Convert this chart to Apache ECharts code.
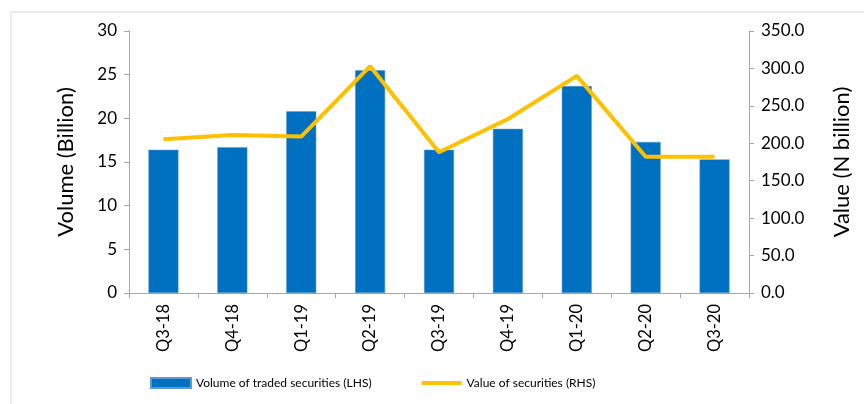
<!DOCTYPE html>
<html>
<head>
<meta charset="utf-8">
<script src="https://cdn.jsdelivr.net/npm/echarts@6/dist/echarts.min.js"></script>
<style>
    html, body { margin: 0; padding: 0; background: #fff; }
    #chart { width: 864px; height: 404px; }
</style>
</head>
<body>
<div id="chart"></div>
<script>
// quarters on the x axis
const quarters = ["Q3-18", "Q4-18", "Q1-19", "Q2-19", "Q3-19", "Q4-19", "Q1-20", "Q2-20", "Q3-20"];
// volume of traded securities, billion (left axis)
const volumeData = [16.4, 16.7, 20.8, 25.5, 16.4, 18.8, 23.7, 17.3, 15.3];
// value of securities, N billion (right axis)
const valueData = [205.5, 211, 209, 303, 188, 232.5, 290, 182, 182];

const seriesNames = ["Volume of traded securities (LHS)", "Value of securities (RHS)"];

const fontFamily = "Lato";
const axisColor = "#A6A6A6";
const textColor = "#000";

const myChart = echarts.init(document.getElementById("chart"));

const option = {
    animation: false,
    graphic: [
        {
            // light frame around the chart area
            type: "rect",
            shape: { x: 11, y: 12, width: 900, height: 420 },
            style: { fill: "none", stroke: "#E6E6E6", lineWidth: 1.5 },
            silent: true,
        },
    ],
    legend: {
        data: [
            { name: seriesNames[0], icon: "rect" },
            { name: seriesNames[1], icon: "path://M0,0 L40,0 L40,4 L0,4 Z" },
        ],
        bottom: 10,
        left: 145,
        itemWidth: 40,
        itemHeight: 10,
        itemGap: 50,
        textStyle: { color: "#000", fontSize: 12, fontFamily },
    },
    grid: {
        left: 129,
        right: 115,
        top: 31,
        bottom: 111,
    },
    xAxis: {
        type: "category",
        data: quarters,
        axisLine: { lineStyle: { color: axisColor, width: 1 } },
        axisTick: { show: true, length: 5, lineStyle: { color: axisColor } },
        axisLabel: {
            rotate: 90,
            color: textColor,
            fontSize: 16.5,
            fontFamily,
            margin: 11,
        },
    },
    yAxis: [
        {
            type: "value",
            min: 0,
            max: 30,
            interval: 5,
            name: "Volume (Billion)",
            nameLocation: "middle",
            nameGap: 52,
            nameTextStyle: { color: textColor, fontSize: 22, fontFamily },
            axisLine: { show: true, lineStyle: { color: axisColor } },
            axisTick: { show: true, length: 5, lineStyle: { color: axisColor } },
            splitLine: { show: false },
            axisLabel: { color: textColor, fontSize: 17, fontFamily, margin: 12 },
        },
        {
            type: "value",
            min: 0,
            max: 350,
            interval: 50,
            position: "right",
            name: "Value (N billion)",
            nameLocation: "middle",
            nameGap: 82,
            nameTextStyle: { color: textColor, fontSize: 22, fontFamily },
            axisLine: { show: true, lineStyle: { color: axisColor } },
            axisTick: { show: true, length: 5, lineStyle: { color: axisColor } },
            splitLine: { show: false },
            axisLabel: {
                color: textColor,
                fontSize: 17,
                fontFamily,
                margin: 12,
                formatter: value => value.toFixed(1),
            },
        },
    ],
    series: [
        {
            name: seriesNames[0],
            type: "bar",
            data: volumeData,
            barWidth: 30,
            yAxisIndex: 0,
            itemStyle: { color: "#0070C0", borderColor: "#5B9BD5", borderWidth: 0.5 },
        },
        {
            name: seriesNames[1],
            type: "line",
            data: valueData,
            yAxisIndex: 1,
            symbol: "none",
            lineStyle: { color: "#FFC000", width: 4 },
            itemStyle: { color: "#FFC000" },
        },
    ],
};

myChart.setOption(option);
</script>
</body>
</html>
